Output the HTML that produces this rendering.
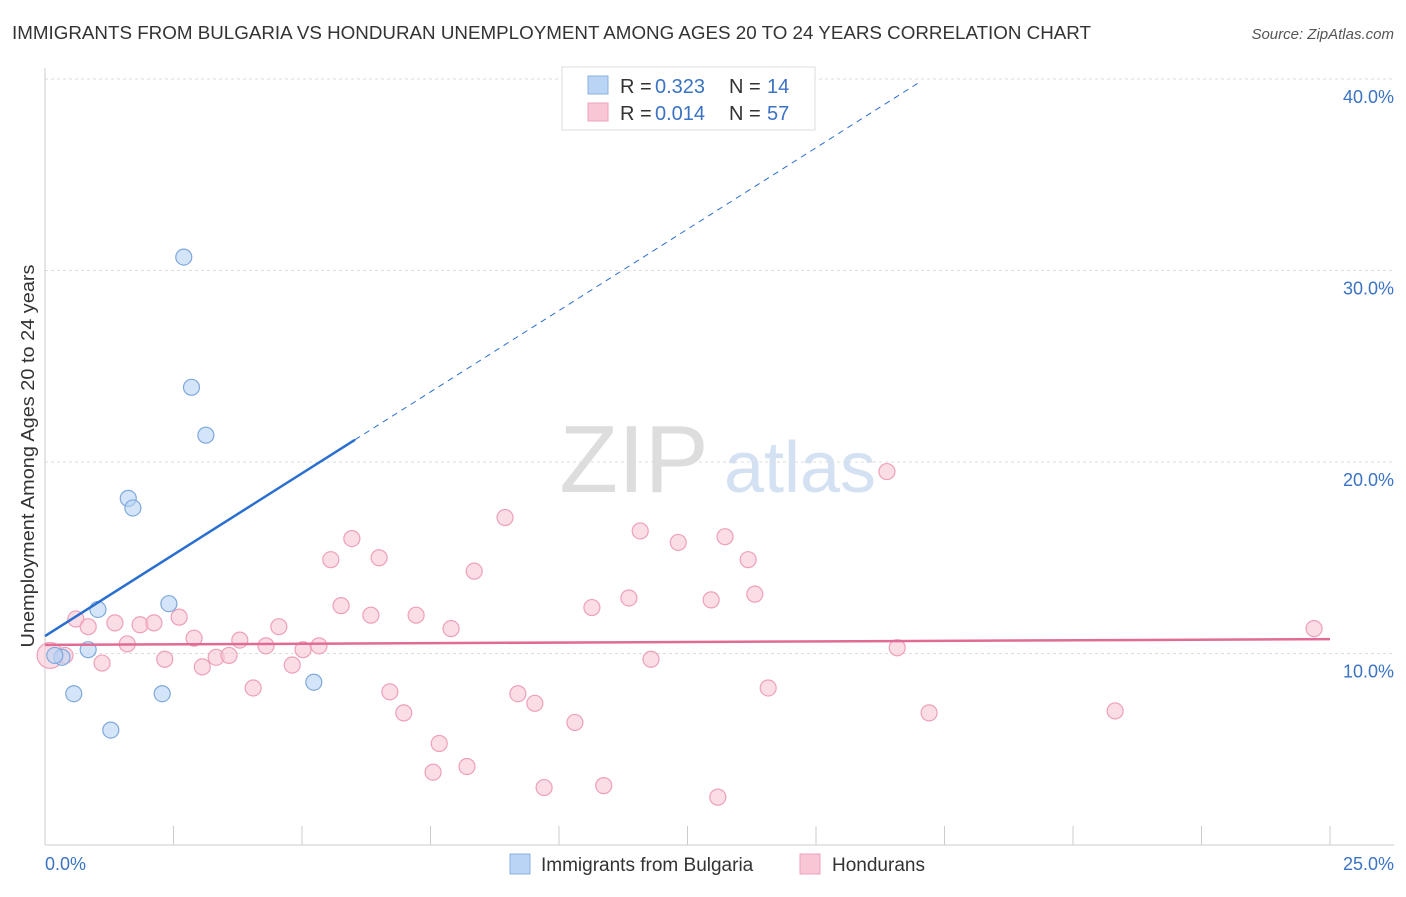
<!DOCTYPE html>
<html><head><meta charset="utf-8"><style>
body{margin:0;background:#fff;font-family:"Liberation Sans",sans-serif}
svg text{font-family:"Liberation Sans",sans-serif}
</style></head><body>
<svg id="chart" width="1406" height="892" xmlns="http://www.w3.org/2000/svg">
<text x="12" y="39" font-size="18" fill="#333" textLength="1079" lengthAdjust="spacingAndGlyphs">IMMIGRANTS FROM BULGARIA VS HONDURAN UNEMPLOYMENT AMONG AGES 20 TO 24 YEARS CORRELATION CHART</text>
<text x="1394" y="39" font-size="15" fill="#555" font-style="italic" text-anchor="end">Source: ZipAtlas.com</text>
<text x="634" y="492" font-size="96" fill="#ddd" font-family="Liberation Serif" text-anchor="middle">ZIP</text>
<text x="800" y="492" font-size="72" fill="#d3e1f3" text-anchor="middle">atlas</text>
<g id="grid"></g><g id="axes"></g><g id="marks"></g>
<text transform="translate(34,456) rotate(-90)" font-size="18" fill="#333" text-anchor="middle" textLength="383" lengthAdjust="spacingAndGlyphs">Unemployment Among Ages 20 to 24 years</text>
<text x="45" y="870" font-size="18" fill="#3b73c4">0.0%</text>
<text x="1394" y="870" font-size="18" fill="#3b73c4" text-anchor="end">25.0%</text>
<g>
<rect x="562" y="67" width="253" height="63" fill="#fff" stroke="#ddd"/>
<rect x="588" y="76" width="20" height="18" fill="#b9d4f5" stroke="#8ab0e0"/>
<rect x="588" y="103" width="20" height="18" fill="#f9c6d6" stroke="#eea0b8"/>
<text x="620" y="93" font-size="20" fill="#333">R =</text><text x="655" y="93" font-size="20" fill="#3b73c4">0.323</text>
<text x="729" y="93" font-size="20" fill="#333">N =</text><text x="767" y="93" font-size="20" fill="#3b73c4">14</text>
<text x="620" y="120" font-size="20" fill="#333">R =</text><text x="655" y="120" font-size="20" fill="#3b73c4">0.014</text>
<text x="729" y="120" font-size="20" fill="#333">N =</text><text x="767" y="120" font-size="20" fill="#3b73c4">57</text>
</g>
<g>
<rect x="510" y="854" width="20" height="20" fill="#b9d4f5" stroke="#8ab0e0"/>
<text x="541" y="871" font-size="19" fill="#333">Immigrants from Bulgaria</text>
<rect x="800" y="854" width="20" height="20" fill="#f9c6d6" stroke="#eea0b8"/>
<text x="832" y="871" font-size="19" fill="#333">Hondurans</text>
</g>
</svg>
<script>
const yTicks=[10,20,30,40];
const yTickLabels=["10.0%","20.0%","30.0%","40.0%"];
const xTicks=[0,2.5,5,7.5,10,12.5,15,17.5,20,22.5,25];
const bulgariaX=[2.7,2.85,3.13,1.62,1.71,1.03,2.41,0.84,0.33,0.56,2.28,1.28,5.23,0.19];
const bulgariaY=[30.7,23.9,21.4,18.1,17.6,12.3,12.6,10.2,9.8,7.9,7.9,6.0,8.5,9.9];
const hondX=[0.1,0.39,0.6,0.84,1.11,1.36,1.6,1.85,2.12,2.33,2.61,2.9,3.06,3.33,3.58,3.79,4.05,4.3,4.55,4.81,5.02,5.33,5.56,5.76,5.97,6.34,6.5,6.71,6.98,7.22,7.55,7.67,7.9,8.21,8.35,8.95,9.2,9.53,9.71,10.31,10.64,10.87,11.36,11.58,11.79,12.32,12.96,13.09,13.23,13.68,13.81,14.07,16.38,16.58,17.2,20.82,24.69];
const hondY=[9.9,9.9,11.8,11.4,9.5,11.6,10.5,11.5,11.6,9.7,11.9,10.8,9.3,9.8,9.9,10.7,8.2,10.4,11.4,9.4,10.2,10.4,14.9,12.5,16.0,12.0,15.0,8.0,6.9,12.0,3.8,5.3,11.3,4.1,14.3,17.1,7.9,7.4,3.0,6.4,12.4,3.1,12.9,16.4,9.7,15.8,12.8,2.5,16.1,14.9,13.1,8.2,19.5,10.3,6.9,7.0,11.3];
const bigPoints=[0];
const bulgariaFit=[10.91,1.70];   // value at x=0, slope per %
const hondFit=[10.45,0.012];
const X=v=>45+v*51.4, Y=v=>845-v*19.15;
const NS="http://www.w3.org/2000/svg";
function mk(t,a,p){const e=document.createElementNS(NS,t);for(const k in a)e.setAttribute(k,a[k]);p.appendChild(e);return e;}
const grid=document.getElementById('grid'),axes=document.getElementById('axes'),marks=document.getElementById('marks');
yTicks.forEach((t,i)=>{
 const l=mk('line',{x1:45,x2:1394,y1:Y(t),y2:Y(t),stroke:'#ddd','stroke-dasharray':'3,3'},grid);
 
 
 const tx=mk('text',{x:1394,y:Y(t)+24,'font-size':18,fill:'#3b73c4','text-anchor':'end'},axes);
 tx.textContent=yTickLabels[i];
 
 
});
const ax=mk('line',{x1:45,x2:1394,y1:845,y2:845,stroke:'#ccc'},axes);


const ay=mk('line',{x1:45,x2:45,y1:68,y2:845,stroke:'#ccc'},axes);


xTicks.forEach(t=>{
 const l=mk('line',{x1:X(t),x2:X(t),y1:826,y2:845,stroke:'#ccc'},axes);
 
 
});
hondX.forEach((x,i)=>{
 const big=bigPoints.includes(i);
 const c=mk('circle',{cx:X(x),cy:Y(hondY[i]),r:big?13:8,fill:'#f9c6d6','fill-opacity':0.6,stroke:'#eea0b8','stroke-width':1.2},marks);
 
 
});
bulgariaX.forEach((x,i)=>{
 const c=mk('circle',{cx:X(x),cy:Y(bulgariaY[i]),r:8,fill:'#b9d4f5','fill-opacity':0.6,stroke:'#7ea8dd','stroke-width':1.2},marks);
 
 
});
const bf=x=>bulgariaFit[0]+bulgariaFit[1]*x;
let l1=mk('line',{x1:X(0),y1:Y(bf(0)),x2:X(6.03),y2:Y(bf(6.03)),stroke:'#2a6fd0','stroke-width':2.5},marks);


let l2=mk('line',{x1:X(6.03),y1:Y(bf(6.03)),x2:X(17.02),y2:Y(bf(17.02)),stroke:'#2a6fd0','stroke-width':1,'stroke-dasharray':'6,5'},marks);


const hf=x=>hondFit[0]+hondFit[1]*x;
let l3=mk('line',{x1:X(0),y1:Y(hf(0)),x2:X(25),y2:Y(hf(25)),stroke:'#e06c95','stroke-width':2.5},marks);


</script>
</body></html>
